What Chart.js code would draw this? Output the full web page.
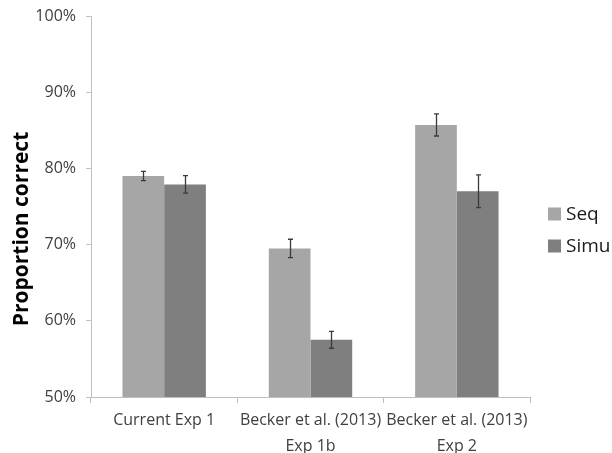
<!DOCTYPE html>
<html>
<head>
<meta charset="utf-8">
<script src="https://cdn.jsdelivr.net/npm/chart.js@4/dist/chart.umd.min.js"></script>
<style>
  html, body { margin: 0; padding: 0; background: #ffffff; }
  #wrap { width: 612px; height: 453px; position: relative; }
</style>
</head>
<body>
<div id="wrap"><canvas id="c" width="612" height="453"></canvas></div>
<script>
// Experiments compared on the x axis (multi-line labels)
const categories = [
  ['Current Exp 1'],
  ['Becker et al. (2013)', 'Exp 1b'],
  ['Becker et al. (2013)', 'Exp 2']
];
const seriesNames = ['Seq', 'Simu'];
// Mean proportion correct (%) per condition
const seqValues  = [79.0, 69.5, 85.7];
const simuValues = [77.9, 57.5, 77.0];
// Error bar half-lengths (%)
const seqErrors  = [0.6, 1.2, 1.45];
const simuErrors = [1.15, 1.1, 2.15];
// Y axis range and ticks
const yMin = 50, yMax = 100, yStep = 10;
const yTitle = 'Proportion correct';

const FONT = '"Open Sans", "Liberation Sans", sans-serif';
const seqColor = '#a6a6a6';
const simuColor = '#7f7f7f';
const axisColor = '#bfbfbf';

const errorSets = [seqErrors, simuErrors];

// Draws vertical error bars with caps on top of each bar
const errorBars = {
  id: 'errorBars',
  afterDatasetsDraw(chart) {
    const ctx = chart.ctx;
    const y = chart.scales.y;
    ctx.save();
    ctx.strokeStyle = '#3a3a3a';
    ctx.lineWidth = 1.3;
    chart.data.datasets.forEach((ds, di) => {
      const meta = chart.getDatasetMeta(di);
      meta.data.forEach((bar, i) => {
        const v = ds.data[i], e = errorSets[di][i];
        const x = Math.round(bar.x) + 0.5;
        const yt = y.getPixelForValue(v + e);
        const yb = y.getPixelForValue(v - e);
        ctx.beginPath();
        ctx.moveTo(x, yt); ctx.lineTo(x, yb);
        ctx.moveTo(x - 2.5, yt); ctx.lineTo(x + 2.5, yt);
        ctx.moveTo(x - 2.5, yb); ctx.lineTo(x + 2.5, yb);
        ctx.stroke();
      });
    });
    ctx.restore();
  }
};

// Legend at the right and the rotated y-axis title
const sideText = {
  id: 'sideText',
  afterDraw(chart) {
    const ctx = chart.ctx;
    ctx.save();
    // legend
    ctx.font = '19px ' + FONT;
    ctx.textBaseline = 'middle';
    ctx.textAlign = 'left';
    chart.data.datasets.forEach((ds, i) => {
      const cy = 214 + i * 32;
      ctx.fillStyle = ds.backgroundColor;
      ctx.fillRect(548, cy - 6.5, 13, 13);
      ctx.fillStyle = '#1a1a1a';
      ctx.fillText(ds.label, 566, cy + 1);
    });
    // y title
    ctx.translate(22, 229);
    ctx.rotate(-Math.PI / 2);
    ctx.textAlign = 'center';
    ctx.textBaseline = 'middle';
    ctx.font = 'bold 21px ' + FONT;
    ctx.fillStyle = '#000000';
    ctx.fillText(yTitle, 0, 0);
    ctx.restore();
  }
};

new Chart(document.getElementById('c'), {
  type: 'bar',
  data: {
    labels: categories,
    datasets: [
      { label: seriesNames[0], data: seqValues, backgroundColor: seqColor },
      { label: seriesNames[1], data: simuValues, backgroundColor: simuColor }
    ]
  },
  options: {
    responsive: false,
    animation: false,
    devicePixelRatio: 1,
    layout: { padding: { top: 16, right: 82, left: 0, bottom: 0 } },
    datasets: { bar: { categoryPercentage: 0.57, barPercentage: 1.0 } },
    plugins: { legend: { display: false }, tooltip: { enabled: false } },
    scales: {
      x: {
        afterFit(s) { s.height = 56; },
        grid: { offset: true, drawOnChartArea: false, tickLength: 6, color: axisColor, lineWidth: 1 },
        border: { color: axisColor, width: 1 },
        ticks: { color: '#404040', font: { family: FONT, size: 16, lineHeight: 1.6 }, padding: 5, maxRotation: 0, autoSkip: false }
      },
      y: {
        min: yMin, max: yMax,
        afterFit(s) { s.width = 91; s.paddingTop = 0; s.paddingBottom = 0; },
        grid: { drawOnChartArea: false, tickLength: 5, color: axisColor, lineWidth: 1 },
        border: { color: axisColor, width: 1 },
        ticks: { stepSize: yStep, color: '#404040', font: { family: FONT, size: 16 }, padding: 10, callback: v => v + '%' }
      }
    }
  },
  plugins: [errorBars, sideText]
});
</script>
</body>
</html>
